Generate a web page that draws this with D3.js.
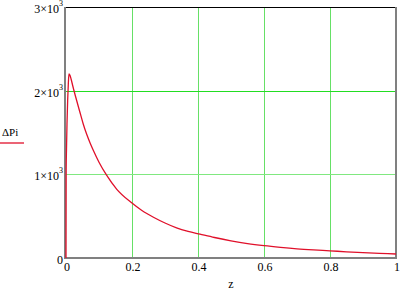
<!DOCTYPE html>
<html><head><meta charset="utf-8">
<script src="https://cdn.jsdelivr.net/npm/d3@7"></script>
<style>body{margin:0;background:#fff}svg{display:block}</style>
</head><body><svg id="c" width="400" height="290"></svg>
<script>
const zValues = [0, 0.0005, 0.0015, 0.003, 0.005, 0.007, 0.009, 0.012, 0.016, 0.02, 0.03, 0.042, 0.052, 0.063, 0.073, 0.083, 0.1, 0.123, 0.154, 0.196, 0.23, 0.265, 0.3, 0.335, 0.37, 0.406, 0.45, 0.5, 0.55, 0.6, 0.65, 0.7, 0.75, 0.8, 0.85, 0.9, 0.95, 1.0];
const dPi = [0, 1050, 1300, 1600, 1880, 2080, 2200, 2185, 2130, 2065, 1915, 1745, 1605, 1475, 1375, 1285, 1145, 990, 820, 668, 568, 487, 418, 360, 318, 285, 245, 205, 172, 147, 127, 110, 97, 86, 74, 64, 56, 48];
const xTicks = [0, 0.2, 0.4, 0.6, 0.8, 1];
const xTickLabels = ["0", "0.2", "0.4", "0.6", "0.8", "1"];
const yTicks = [0, 1000, 2000, 3000];
const yTickLabels = [["0",""], ["1×10","3"], ["2×10","3"], ["3×10","3"]];
const seriesName = "ΔPi";
const xName = "z";

const FONT = "'Liberation Serif', 'Times New Roman', Times, 'DejaVu Serif', serif";
const svg = d3.select("#c");
const L = 66, R = 396, T = 7, B = 258;
const x = d3.scaleLinear().domain([0, 1]).range([L, R]);
const y = d3.scaleLinear().domain([0, 3000]).range([B, T]);

// grid
svg.append("g").selectAll("line").data(xTicks.filter(d => d > 0 && d < 1)).join("line")
  .attr("x1", d => Math.round(x(d)) + 0.5).attr("x2", d => Math.round(x(d)) + 0.5)
  .attr("y1", T).attr("y2", B).attr("stroke", "#66e066").attr("stroke-width", 1);
svg.append("g").selectAll("line").data(yTicks.filter(d => d > 0 && d < 3000)).join("line")
  .attr("x1", L).attr("x2", R).attr("y1", d => Math.round(y(d)) + 0.5).attr("y2", d => Math.round(y(d)) + 0.5)
  .attr("stroke", d => d === 2000 ? "#22dd22" : "#80e880").attr("stroke-width", 1);

// frame
svg.append("line").attr("x1", L).attr("x2", R).attr("y1", T + 0.5).attr("y2", T + 0.5).attr("stroke", "#000").attr("stroke-width", 1);
svg.append("line").attr("x1", R).attr("x2", R).attr("y1", T).attr("y2", B + 1).attr("stroke", "#808080").attr("stroke-width", 2);
svg.append("line").attr("x1", L - 1).attr("x2", R + 1).attr("y1", B).attr("y2", B).attr("stroke", "#808080").attr("stroke-width", 2);
svg.append("line").attr("x1", L - 1).attr("x2", L - 1).attr("y1", T).attr("y2", B + 1).attr("stroke", "#808080").attr("stroke-width", 2);

// curve
const line = d3.line().x((d, i) => x(zValues[i])).y(d => y(d)).curve(d3.curveMonotoneX);
svg.append("path").datum(dPi).attr("d", line).attr("fill", "none")
  .attr("stroke", "#e0102a").attr("stroke-width", 1.3);

// y labels
const yl = svg.append("g").selectAll("text").data(yTicks).join("text")
  .attr("x", 63).attr("y", d => y(d) + 6).attr("text-anchor", "end")
  .style("font-family", FONT).attr("font-size", 12);
yl.append("tspan").text((d, i) => yTickLabels[i][0]);
yl.append("tspan").attr("font-size", 8).attr("dy", -7).text((d, i) => yTickLabels[i][1]);

// x labels
svg.append("g").selectAll("text").data(xTicks).join("text")
  .attr("x", d => x(d) + 1).attr("y", 271).attr("text-anchor", "middle")
  .style("font-family", FONT).attr("font-size", 12)
  .text((d, i) => xTickLabels[i]);

svg.append("text").attr("x", x(0.5)).attr("y", 288).attr("text-anchor", "middle")
  .style("font-family", FONT).attr("font-size", 12).text(xName);

// legend
svg.append("text").attr("x", 2).attr("y", 136).style("font-family", FONT).attr("font-size", 11).text(seriesName);
svg.append("line").attr("x1", 0).attr("x2", 24).attr("y1", 143).attr("y2", 143).attr("stroke", "#e0102a").attr("stroke-width", 1.3);
</script></body></html>
